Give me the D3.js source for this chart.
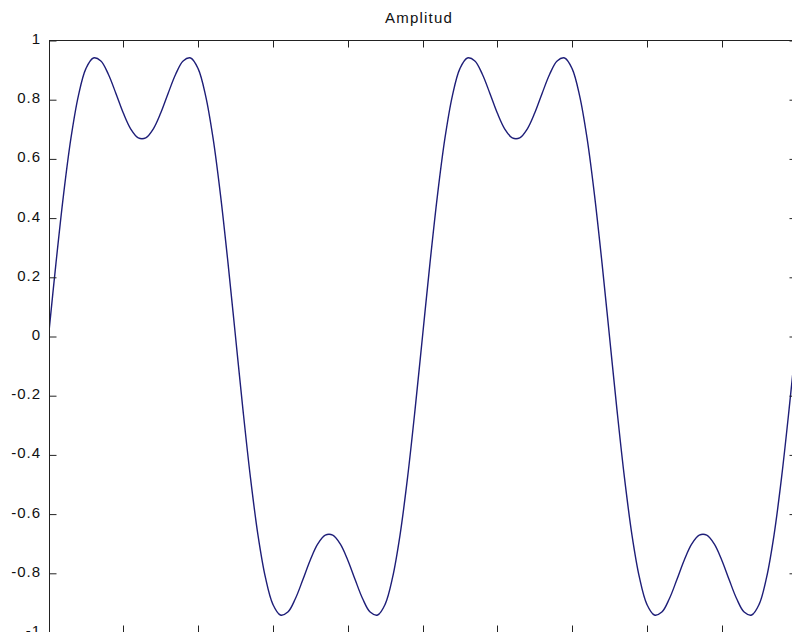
<!DOCTYPE html>
<html>
<head>
<meta charset="utf-8">
<script src="https://cdn.jsdelivr.net/npm/d3@7"></script>
<style>
  html, body { margin: 0; padding: 0; background: #ffffff; }
  svg { display: block; }
  text { font-family: "Liberation Sans", Arial, Helvetica, sans-serif; fill: #111; }
</style>
</head>
<body>
<script>
// ---- data ----
const title = "Amplitud";
// sample positions (x axis 0..100, ticks every 10, no labels)
const samplePos = d3.range(0, 101);
const amplitude = [
  0.000, 0.248, 0.477, 0.670, 0.814, 0.905, 0.941, 0.931, 0.886, 0.822,
  0.755, 0.701, 0.671, 0.671, 0.701, 0.755, 0.822, 0.886, 0.931, 0.941,
  0.905, 0.814, 0.670, 0.477, 0.248,
  0.000, -0.248, -0.477, -0.670, -0.814, -0.905, -0.941, -0.931, -0.886, -0.822,
  -0.755, -0.701, -0.671, -0.671, -0.701, -0.755, -0.822, -0.886, -0.931, -0.941,
  -0.905, -0.814, -0.670, -0.477, -0.248,
  0.000, 0.248, 0.477, 0.670, 0.814, 0.905, 0.941, 0.931, 0.886, 0.822,
  0.755, 0.701, 0.671, 0.671, 0.701, 0.755, 0.822, 0.886, 0.931, 0.941,
  0.905, 0.814, 0.670, 0.477, 0.248,
  0.000, -0.248, -0.477, -0.670, -0.814, -0.905, -0.941, -0.931, -0.886, -0.822,
  -0.755, -0.701, -0.671, -0.671, -0.701, -0.755, -0.822, -0.886, -0.931, -0.941,
  -0.905, -0.814, -0.670, -0.477, -0.248,
  0.000
];
const xTicks = [0, 10, 20, 30, 40, 50, 60, 70, 80, 90, 100];
const yTicks = [-1, -0.8, -0.6, -0.4, -0.2, 0, 0.2, 0.4, 0.6, 0.8, 1];
const yTickLabels = ["-1", "-0.8", "-0.6", "-0.4", "-0.2", "0", "0.2", "0.4", "0.6", "0.8", "1"];

// ---- layout ----
const W = 792, H = 632;
const pLeft = 49.5, pRight = 796.5, pTop = 40.5, pBottom = 632.5;
const tickLen = 7;

const svg = d3.select("body").append("svg").attr("width", W).attr("height", H);

const x = d3.scaleLinear().domain([0, 100]).range([pLeft - 1, pRight]);
const y = d3.scaleLinear().domain([-1, 1]).range([pBottom, pTop]);

svg.append("defs").append("clipPath").attr("id", "plotclip")
  .append("rect").attr("x", pLeft).attr("y", pTop).attr("width", pRight - pLeft).attr("height", pBottom - pTop);

// curve
const line = d3.line()
  .x((d, i) => x(samplePos[i]))
  .y(d => y(d))
  .curve(d3.curveCatmullRom.alpha(0.5));
svg.append("path")
  .datum(amplitude)
  .attr("clip-path", "url(#plotclip)")
  .attr("fill", "none")
  .attr("stroke", "#1e1e78")
  .attr("stroke-width", 1.4)
  .attr("stroke-linejoin", "round")
  .attr("d", line);

// axes frame
const axisColor = "#222";
svg.append("rect")
  .attr("x", pLeft).attr("y", pTop)
  .attr("width", pRight - pLeft).attr("height", pBottom - pTop)
  .attr("fill", "none").attr("stroke", axisColor).attr("stroke-width", 1);

// inward ticks using d3 axes (no labels on x)
const gBottom = svg.append("g").attr("transform", `translate(0,${pBottom})`)
  .call(d3.axisTop(x).tickValues(xTicks).tickSize(tickLen).tickFormat(""));
const gTop = svg.append("g").attr("transform", `translate(0,${pTop})`)
  .call(d3.axisBottom(x).tickValues(xTicks).tickSize(tickLen).tickFormat(""));
const gLeft = svg.append("g").attr("transform", `translate(${pLeft},0)`)
  .call(d3.axisRight(y).tickValues(yTicks).tickSize(tickLen).tickFormat(""));
const gRight = svg.append("g").attr("transform", `translate(${pRight},0)`)
  .call(d3.axisLeft(y).tickValues(yTicks).tickSize(tickLen).tickFormat(""));

[gBottom, gTop, gLeft, gRight].forEach(g => {
  g.select(".domain").remove();
  g.selectAll(".tick line").attr("stroke", axisColor).attr("stroke-width", 1);
});
[gBottom, gTop].forEach(g => {
  g.selectAll(".tick").attr("transform", d => `translate(${Math.round(x(d)) + 0.5},0)`);
});

// y tick labels (outside, left)
svg.append("g").selectAll("text")
  .data(yTicks)
  .join("text")
  .attr("x", 41)
  .attr("y", d => y(d) + 3.5)
  .attr("text-anchor", "end")
  .attr("font-size", 15)
  .attr("letter-spacing", "1px")
  .text((d, i) => yTickLabels[i]);

// title
svg.append("text")
  .attr("x", 419)
  .attr("y", 22.5)
  .attr("text-anchor", "middle")
  .attr("font-size", 15)
  .attr("letter-spacing", "1.2px")
  .text(title);
</script>
</body>
</html>
